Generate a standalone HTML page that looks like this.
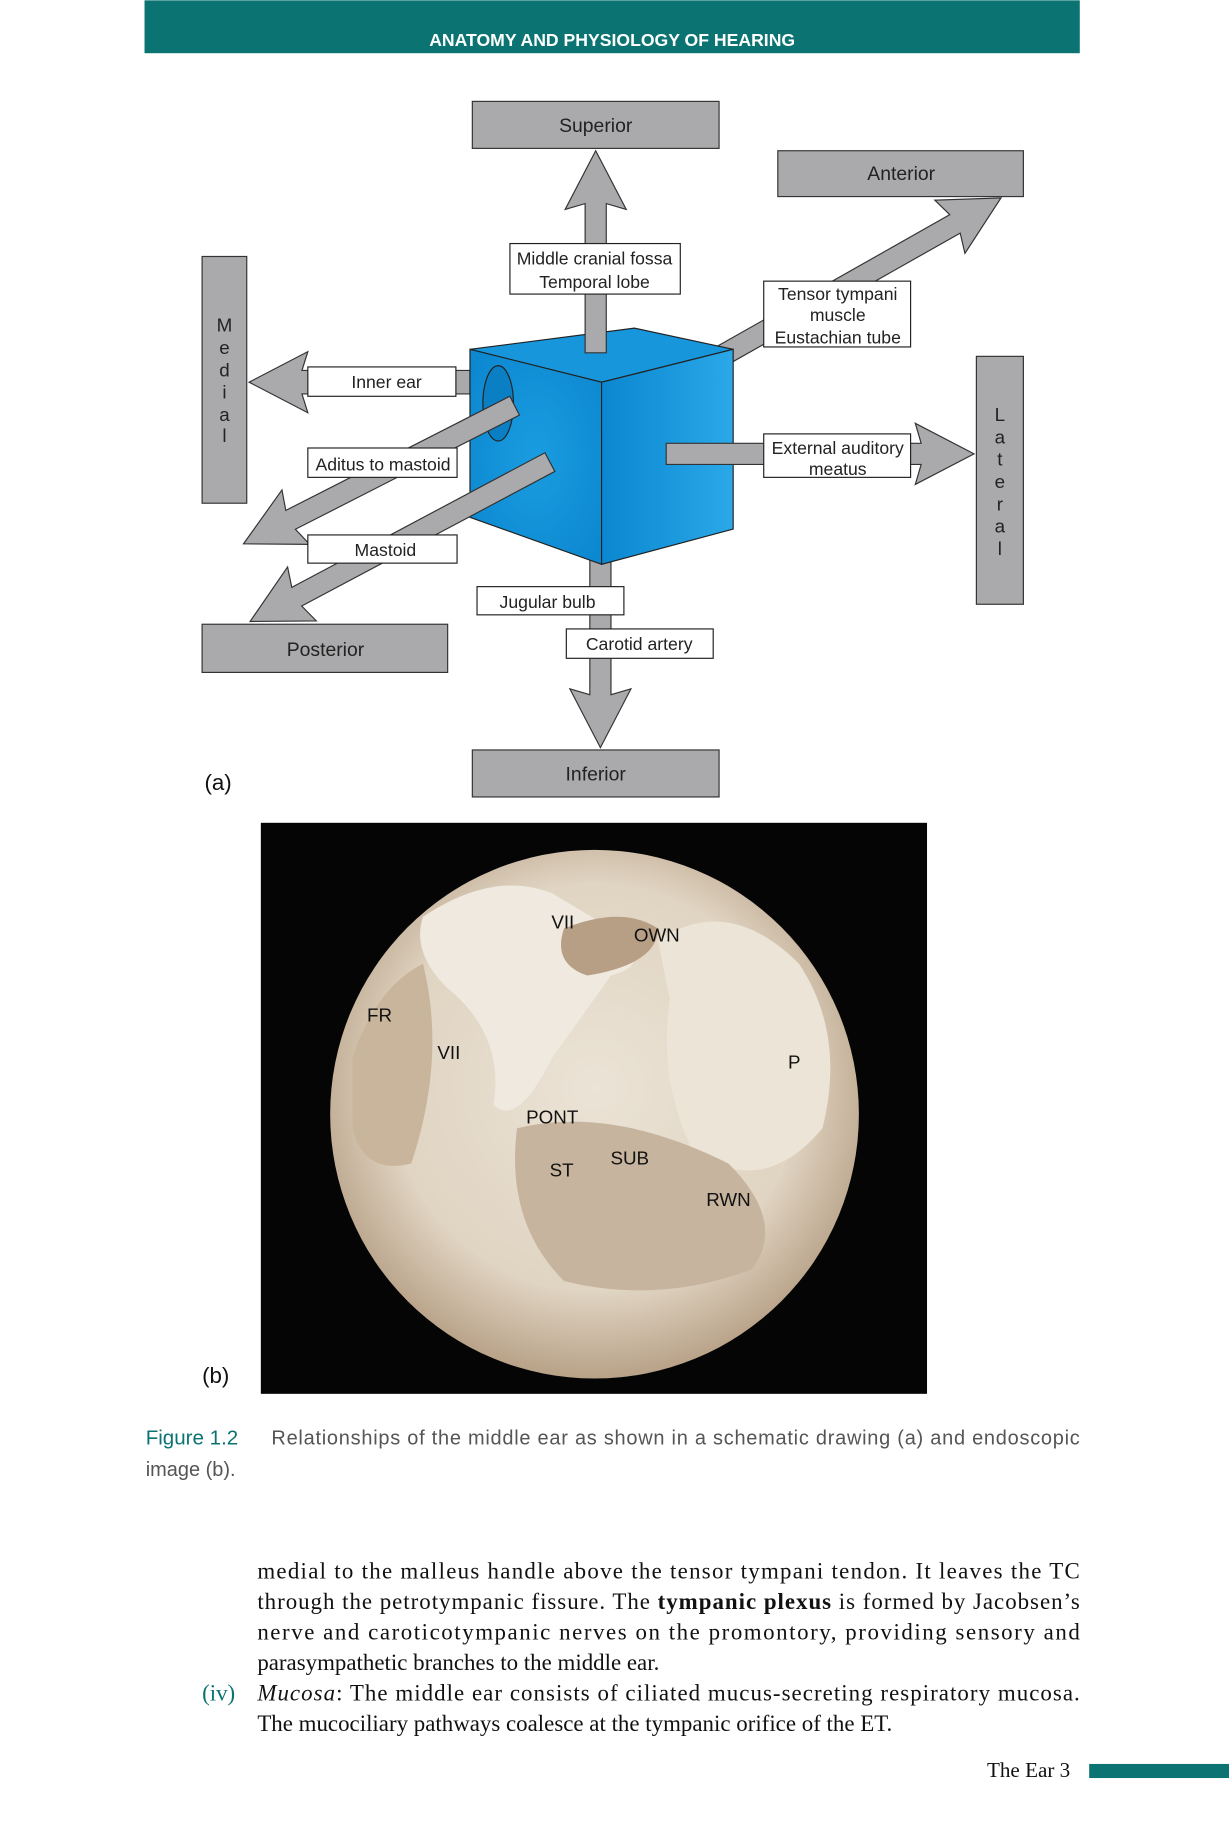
<!DOCTYPE html>
<html><head><meta charset="utf-8"><style>
html,body{margin:0;padding:0;background:#fff;}
svg{display:block}
</style></head><body>
<svg width="1229" height="1843" viewBox="0 0 1046 1568" xmlns="http://www.w3.org/2000/svg" font-family="Liberation Sans, sans-serif">
<rect width="1046" height="1568" fill="#fff"/>
<rect x="123" y="0" width="796" height="45" fill="#0b7473"/>
<text x="521" y="39" fill="#fff" font-size="15" font-weight="bold" text-anchor="middle">ANATOMY AND PHYSIOLOGY OF HEARING</text>
<defs>
<radialGradient id="cb" cx="0.5" cy="0.5" r="0.7"><stop offset="0" stop-color="#1a9ce0"/><stop offset="1" stop-color="#0b86cf"/></radialGradient>
<linearGradient id="cr" x1="0" x2="1"><stop offset="0" stop-color="#0a87d0"/><stop offset="1" stop-color="#2aa8e8"/></linearGradient>
<radialGradient id="ph" cx="0.5" cy="0.45" r="0.55"><stop offset="0" stop-color="#ebe3d6"/><stop offset="0.7" stop-color="#e0d4c2"/><stop offset="1" stop-color="#b8a288"/></radialGradient>
</defs>
<g fill="#aaaaac" stroke="#333" stroke-width="1">
<rect x="402" y="86" width="210" height="40"/>
<rect x="662" y="128" width="209" height="39"/>
<rect x="172" y="218" width="38" height="210"/>
<rect x="831" y="303" width="40" height="211"/>
<rect x="172" y="531" width="209" height="41"/>
<rect x="402" y="638" width="210" height="40"/>
<polygon transform="translate(610,305) rotate(-29.5)" points="0,-9 233,-9 228,-26 278,0 228,26 233,9 0,9"/>
<polygon transform="translate(400,325) rotate(180)" points="0,-10 143,-10 138,-26 188,0 138,26 143,10 0,10"/>
<polygon transform="translate(511,470) rotate(90)" points="0,-9 121,-9 116,-26 166,0 116,26 121,9 0,9"/>
</g>
<g stroke="#222" stroke-width="1">
<polygon points="400,297 540,279 624,297 512,325" fill="#1896dc"/>
<polygon points="400,297 512,325 512,480 400,440" fill="url(#cb)"/>
<polygon points="512,325 624,297 624,450 512,480" fill="url(#cr)"/>
<ellipse cx="424" cy="343" rx="13" ry="32" fill="#0a7fc4"/>
</g>
<g fill="#aaaaac" stroke="#333" stroke-width="1">
<polygon transform="translate(507,300) rotate(-90)" points="0,-9 127,-9 122,-26 172,0 122,26 127,9 0,9"/>
<polygon transform="translate(438,345) rotate(153)" points="0,-9 214,-9 209,-26 259,0 209,26 214,9 0,9"/>
<polygon transform="translate(468,393) rotate(152)" points="0,-9 244,-9 239,-26 289,0 239,26 244,9 0,9"/>
<polygon transform="translate(567,386) rotate(0)" points="0,-9 217,-9 212,-26 262,0 212,26 217,9 0,9"/>
</g>
<g fill="#fff" stroke="#222" stroke-width="1">
<rect x="434" y="207" width="145" height="43"/>
<rect x="262" y="312" width="126" height="25"/>
<rect x="262" y="381" width="127" height="25"/>
<rect x="262" y="455" width="127" height="24"/>
<rect x="650" y="239" width="125" height="56"/>
<rect x="650" y="369" width="125" height="37"/>
<rect x="406" y="499" width="125" height="24"/>
<rect x="482" y="535" width="125" height="25"/>
</g>
<g font-size="15" fill="#222" text-anchor="middle">
<text x="507" y="112" font-size="16.5">Superior</text>
<text x="767" y="153" font-size="16.5">Anterior</text>
<text x="277" y="558" font-size="16.5">Posterior</text>
<text x="507" y="664" font-size="16.5">Inferior</text>
<text x="506" y="225">Middle cranial fossa</text>
<text x="506" y="245">Temporal lobe</text>
<text x="329" y="330">Inner ear</text>
<text x="326" y="400">Aditus to mastoid</text>
<text x="328" y="473">Mastoid</text>
<text x="713" y="255">Tensor tympani</text>
<text x="713" y="273">muscle</text>
<text x="713" y="292">Eustachian tube</text>
<text x="713" y="386">External auditory</text>
<text x="713" y="404">meatus</text>
<text x="466" y="517">Jugular bulb</text>
<text x="544" y="553">Carotid artery</text>
<g font-size="16">
<text x="191" y="282">M</text><text x="191" y="301">e</text><text x="191" y="320">d</text><text x="191" y="339">i</text><text x="191" y="358">a</text><text x="191" y="376">l</text>
<text x="851" y="358">L</text><text x="851" y="377">a</text><text x="851" y="396">t</text><text x="851" y="415">e</text><text x="851" y="434">r</text><text x="851" y="453">a</text><text x="851" y="472">l</text>
</g>
</g>
<text x="174" y="672" font-size="19" fill="#111">(a)</text>
<rect x="222" y="700" width="567" height="486" fill="#050505"/>
<circle cx="506" cy="948" r="225" fill="url(#ph)"/>
<path d="M360,780 Q420,740 470,760 L520,790 Q560,820 520,830 L470,900 Q440,960 420,940 Q430,880 380,840 Q350,810 360,780Z" fill="#efe9df"/>
<path d="M560,800 Q620,760 680,820 Q720,880 700,960 Q650,1020 590,980 Q560,920 570,850Z" fill="#ece4d6"/>
<path d="M300,900 Q320,840 360,820 Q380,900 350,990 Q310,1000 300,960Z" fill="#c9b59b"/>
<path d="M440,960 Q520,940 620,990 Q670,1040 640,1080 Q560,1110 480,1090 Q430,1040 440,960Z" fill="#c6b49e"/>
<path d="M480,790 Q530,770 560,790 Q560,820 500,830 Q470,820 480,790Z" fill="#b79f85"/>
<g font-size="16" fill="#111" text-anchor="middle">
<text x="479" y="790">VII</text><text x="559" y="801">OWN</text><text x="323" y="869">FR</text><text x="382" y="901">VII</text><text x="676" y="909">P</text><text x="470" y="956">PONT</text><text x="536" y="991">SUB</text><text x="478" y="1001">ST</text><text x="620" y="1026">RWN</text>
</g>
<text x="172" y="1177" font-size="19" fill="#111">(b)</text>
<text x="124" y="1229" font-size="17.5" fill="#0b7473">Figure 1.2</text>
<text x="231" y="1229" font-size="17" fill="#555" textLength="688" lengthAdjust="spacing">Relationships of the middle ear as shown in a schematic drawing (a) and endoscopic</text>
<text x="124" y="1256" font-size="17" fill="#555">image (b).</text>
<g font-family="Liberation Serif, serif" font-size="19.5" fill="#111">
<text x="219" y="1343" textLength="700" lengthAdjust="spacing">medial to the malleus handle above the tensor tympani tendon. It leaves the TC</text>
<text x="219" y="1369" textLength="700" lengthAdjust="spacing">through the petrotympanic fissure. The <tspan font-weight="bold">tympanic plexus</tspan> is formed by Jacobsen’s</text>
<text x="219" y="1395" textLength="700" lengthAdjust="spacing">nerve and caroticotympanic nerves on the promontory, providing sensory and</text>
<text x="219" y="1421">parasympathetic branches to the middle ear.</text>
<text x="172" y="1447" fill="#0b7473">(iv)</text>
<text x="219" y="1447" textLength="700" lengthAdjust="spacing"><tspan font-style="italic">Mucosa</tspan>: The middle ear consists of ciliated mucus-secreting respiratory mucosa.</text>
<text x="219" y="1473">The mucociliary pathways coalesce at the tympanic orifice of the ET.</text>
<text x="840" y="1512" font-size="18">The Ear  3</text>
</g>
<rect x="927" y="1501" width="119" height="12" fill="#0b7473"/>
</svg>
</body></html>
